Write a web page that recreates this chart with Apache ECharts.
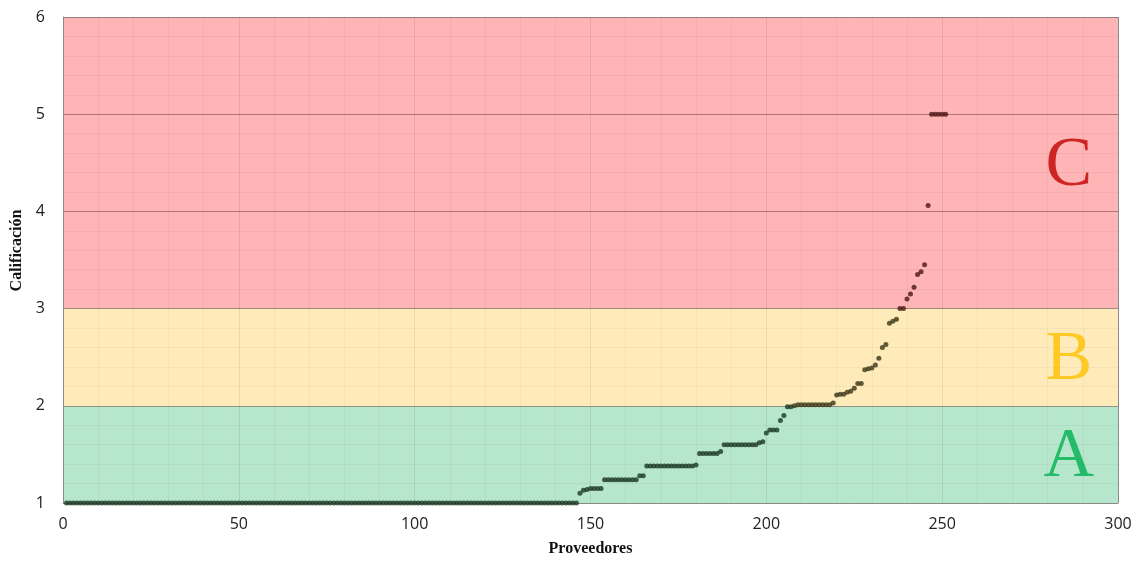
<!DOCTYPE html>
<html>
<head>
<meta charset="utf-8">
<style>
  html, body { margin: 0; padding: 0; background: #ffffff; }
  #chart { width: 1140px; height: 562px; }
</style>
<script src="https://cdn.jsdelivr.net/npm/echarts@6/dist/echarts.min.js"></script>
</head>
<body>
<div id="chart"></div>
<script>
// Calificación of each proveedor (proveedor 1..251, sorted ascending)
const ratings = [
  1,1,1,1,1,1,1,1,1,1, 1,1,1,1,1,1,1,1,1,1,
  1,1,1,1,1,1,1,1,1,1, 1,1,1,1,1,1,1,1,1,1,
  1,1,1,1,1,1,1,1,1,1, 1,1,1,1,1,1,1,1,1,1,
  1,1,1,1,1,1,1,1,1,1, 1,1,1,1,1,1,1,1,1,1,
  1,1,1,1,1,1,1,1,1,1, 1,1,1,1,1,1,1,1,1,1,
  1,1,1,1,1,1,1,1,1,1, 1,1,1,1,1,1,1,1,1,1,
  1,1,1,1,1,1,1,1,1,1, 1,1,1,1,1,1,1,1,1,1,
  1,1,1,1,1,1,
  1.10,1.13,1.14,1.15,1.15,1.15,1.15,
  1.24,1.24,1.24,1.24,1.24,1.24,1.24,1.24,1.24,1.24,
  1.28,1.28,
  1.38,1.38,1.38,1.38,1.38,1.38,1.38,1.38,1.38,1.38,1.38,1.38,1.38,1.38,1.39,
  1.51,1.51,1.51,1.51,1.51,1.51,1.53,
  1.60,1.60,1.60,1.60,1.60,1.60,1.60,1.60,1.60,1.60,1.62,1.63,
  1.72,1.75,1.75,1.75,1.85,1.90,
  1.99,1.99,2.00,2.01,2.01,2.01,2.01,2.01,2.01,2.01,2.01,2.01,2.01,2.03,
  2.11,2.12,2.12,2.14,2.15,2.18,2.23,2.23,
  2.37,2.38,2.39,2.42,2.49,2.60,2.63,2.85,2.87,2.89,
  3.00,3.00,3.10,3.15,3.22,3.35,3.38,3.45,
  4.06,
  5.00,5.00,5.00,5.00,5.00
];

// Zones: lower bound, upper bound, letter, band colour, letter colour, dot colour
const zoneNames = ['A', 'B', 'C'];
const zoneLow = [1, 2, 3];
const zoneHigh = [2, 3, 6];
const zoneBandColors = ['#b6e7cc', '#ffebba', '#ffb4b6'];
const zoneLetterColors = ['#00b050', '#ffc000', '#c00000'];
const zoneDotColors = ['#1c3822', '#3a3618', '#4c1616'];
const zoneLetterY = [1.47, 2.46, 4.46];
const zoneLetterX = 286;

const xTicks = [0, 50, 100, 150, 200, 250, 300];
const yTicks = [1, 2, 3, 4, 5, 6];

const points = ratings.map((v, i) => [i + 1, v]);

function zoneOf(v) {
  if (v < 2) return 0;
  if (v < 3) return 1;
  return 2;
}

const chart = echarts.init(document.getElementById('chart'), null, { renderer: 'canvas' });

const option = {
  animation: false,
  backgroundColor: '#ffffff',
  grid: { left: 63, right: 22, top: 17, bottom: 56, containLabel: false },
  xAxis: {
    type: 'value',
    min: xTicks[0],
    max: xTicks[xTicks.length - 1],
    interval: 50,
    z: 2,
    name: 'Proveedores',
    nameLocation: 'middle',
    nameGap: 38,
    nameTextStyle: { fontFamily: 'Liberation Serif', fontWeight: 'bold', fontSize: 16, color: '#111' },
    axisLine: { show: true, lineStyle: { color: '#8a8a8a', width: 1 } },
    axisTick: { show: false },
    axisLabel: { fontFamily: 'Open Sans', fontSize: 16, color: '#222', margin: 13 },
    splitLine: {
      show: true,
      lineStyle: {
        color: ['#8a8a8a', 'rgba(0,0,0,0.08)', 'rgba(0,0,0,0.08)', 'rgba(0,0,0,0.08)', 'rgba(0,0,0,0.08)', 'rgba(0,0,0,0.08)', '#8a8a8a'],
        width: 1
      }
    },
    minorTick: { show: false, splitNumber: 5 },
    minorSplitLine: { show: true, lineStyle: { color: 'rgba(0,0,0,0.04)', width: 1 } }
  },
  yAxis: {
    type: 'value',
    min: yTicks[0],
    max: yTicks[yTicks.length - 1],
    interval: 1,
    z: 2,
    name: 'Calificación',
    nameLocation: 'middle',
    nameGap: 36,
    nameRotate: 90,
    nameTextStyle: { fontFamily: 'Liberation Serif', fontWeight: 'bold', fontSize: 16, color: '#111', padding: [0, 0, 0, 19] },
    axisLine: { show: true, lineStyle: { color: '#8a8a8a', width: 1 } },
    axisTick: { show: false },
    axisLabel: { fontFamily: 'Open Sans', fontSize: 16, color: '#222', margin: 18 },
    splitLine: {
      show: true,
      lineStyle: {
        color: ['#8a8a8a', '#9a9080', '#9a8a80', '#b07474', '#b07474', '#8f7f7f'],
        width: 1
      }
    },
    minorTick: { show: false, splitNumber: 5 },
    minorSplitLine: { show: true, lineStyle: { color: 'rgba(0,0,0,0.04)', width: 1 } }
  },
  series: [
    {
      type: 'scatter',
      name: 'zones',
      z: 1,
      silent: true,
      data: [],
      markArea: {
        silent: true,
        data: zoneNames.map((n, i) => [
          { yAxis: zoneLow[i], itemStyle: { color: zoneBandColors[i], opacity: 1 } },
          { yAxis: zoneHigh[i] }
        ])
      }
    },
    {
      type: 'scatter',
      name: 'Proveedores',
      z: 3,
      symbol: 'circle',
      symbolSize: 5,
      data: points.map(p => ({
        value: p,
        itemStyle: { color: zoneDotColors[zoneOf(p[1])] }
      }))
    },
    {
      type: 'scatter',
      name: 'letters',
      z: 4,
      silent: true,
      symbolSize: 1,
      itemStyle: { color: 'rgba(0,0,0,0)' },
      data: zoneNames.map((n, i) => ({
        name: n,
        value: [zoneLetterX, zoneLetterY[i]],
        label: {
          show: true,
          position: 'inside',
          formatter: n,
          fontFamily: 'Liberation Serif',
          fontSize: 70,
          color: zoneLetterColors[i]
        }
      }))
    }
  ]
};

chart.setOption(option);
</script>
</body>
</html>
